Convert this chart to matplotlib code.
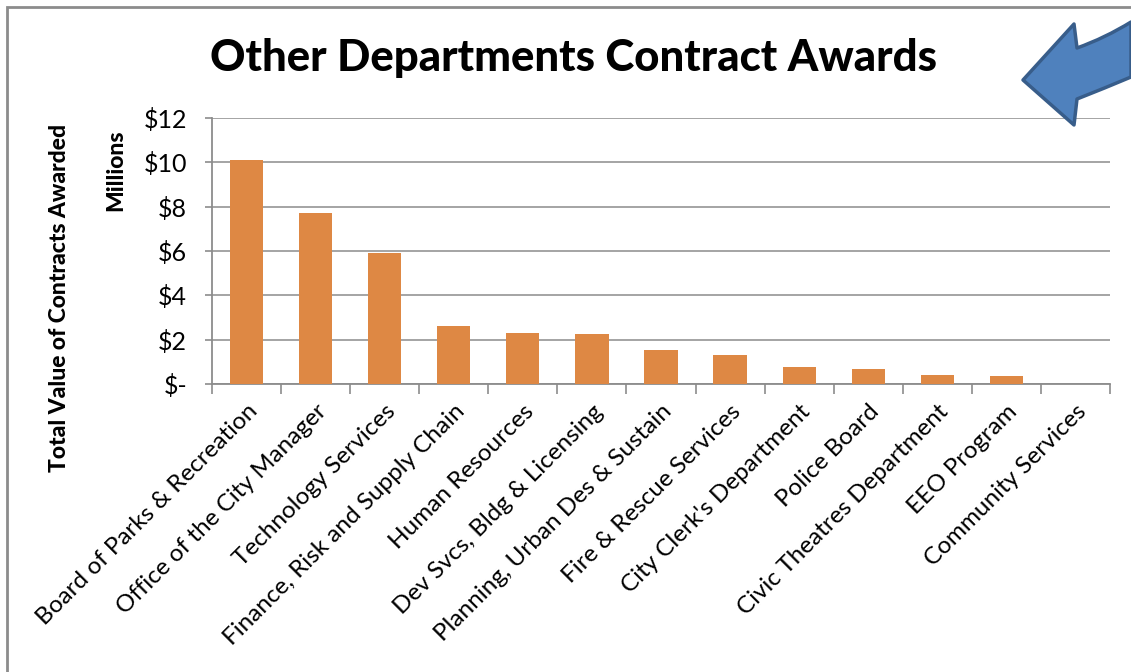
import matplotlib.pyplot as plt
from matplotlib.patches import Rectangle, PathPatch
from matplotlib.path import Path
from matplotlib.ticker import FixedLocator, FuncFormatter

plt.rcParams['font.family'] = ['Lato', 'DejaVu Sans']

departments = [
    "Board of Parks & Recreation",
    "Office of the City Manager",
    "Technology Services",
    "Finance, Risk and Supply Chain",
    "Human Resources",
    "Dev Svcs, Bldg & Licensing",
    "Planning, Urban Des & Sustain",
    "Fire & Rescue Services",
    "City Clerk's Department",
    "Police Board",
    "Civic Theatres Department",
    "EEO Program",
    "Community Services",
]
awards_millions = [10.1, 7.72, 5.92, 2.62, 2.3, 2.25, 1.53, 1.31, 0.77, 0.68, 0.41, 0.36, 0.02]

fig = plt.figure(figsize=(11.31, 6.72), dpi=100)
ax = fig.add_axes([212 / 1131, 1 - 384 / 672, (1110 - 212) / 1131, (384 - 118) / 672])

x = list(range(len(departments)))
ax.bar(x, awards_millions, width=0.48, color='#DE8844', zorder=3)

ax.set_xlim(-0.5, len(departments) - 0.5)
ax.set_ylim(0, 12)
ax.set_yticks([0, 2, 4, 6, 8, 10, 12])
ax.yaxis.set_major_formatter(FuncFormatter(lambda v, p: '$-' if v == 0 else '${:.0f}'.format(v)))
ax.yaxis.grid(True, color='#8C8C8C', linewidth=1.1, zorder=0)

ax.set_xticks(x)
ax.set_xticklabels(departments, rotation=45, ha='right', va='top', rotation_mode='anchor', fontsize=17.5)
ax.xaxis.set_minor_locator(FixedLocator([i - 0.5 for i in range(len(departments) + 1)]))
ax.tick_params(axis='x', which='major', length=0, pad=12)
ax.tick_params(axis='x', which='minor', length=7, width=1.2, color='#8C8C8C', direction='out')
ax.tick_params(axis='y', length=5, width=1.2, color='#8C8C8C', labelsize=18, pad=13)

for s in ['top', 'right']:
    ax.spines[s].set_visible(False)
for s in ['left', 'bottom']:
    ax.spines[s].set_color('#8C8C8C')
    ax.spines[s].set_linewidth(1.3)

fig.text(573 / 1131, 1 - 58 / 672, 'Other Departments Contract Awards', ha='center', va='center',
         fontsize=31.5, fontweight='black')
fig.text(116 / 1131, 1 - 170 / 672, 'Millions', rotation=90, ha='center', va='center',
         fontsize=16.5, fontweight='black')
fig.text(60 / 1131, 1 - 298 / 672, 'Total Value of Contracts Awarded', rotation=90, ha='center',
         va='center', fontsize=16.5, fontweight='black')

# chart border
fig.patches.append(Rectangle((7 / 1131, -0.1), 1.2, 1.1 - 7 / 672, transform=fig.transFigure,
                             fill=False, edgecolor='#8C8C8C', linewidth=2))

# decorative curved block arrow (pixel coords, y from top)
pts = [(1023, 80), (1074, 24), (1077, 48), (1105, 38), (1131, 22), (1131, 22),
       (1131, 77), (1131, 77), (1105, 88), (1077, 99), (1074, 125), (1023, 80)]
codes = [Path.MOVETO, Path.LINETO, Path.LINETO, Path.CURVE3, Path.CURVE3, Path.LINETO,
         Path.LINETO, Path.LINETO, Path.CURVE3, Path.CURVE3, Path.LINETO, Path.CLOSEPOLY]
verts = [(px / 1131, 1 - py / 672) for px, py in pts]
arrow = PathPatch(Path(verts, codes), transform=fig.transFigure, facecolor='#4F81BD',
                  edgecolor='#385D8A', linewidth=2.5, joinstyle='round')
fig.patches.append(arrow)

fig.savefig('out.png', dpi=100)
